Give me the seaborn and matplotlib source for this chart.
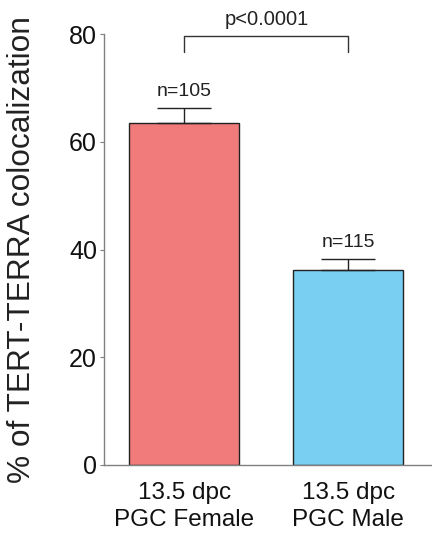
import matplotlib
matplotlib.use("Agg")
import matplotlib.pyplot as plt
import seaborn as sns
import pandas as pd

groups = ["13.5 dpc\nPGC Female", "13.5 dpc\nPGC Male"]
means = [63.5, 36.2]
errors = [2.8, 2.0]
counts = ["n=105", "n=115"]
colors = ["#F07B7A", "#78CFF2"]
p_label = "p<0.0001"
yticks = [0, 20, 40, 60, 80]

sns.set_theme(style="white")
plt.rcParams["font.family"] = ["Liberation Sans", "DejaVu Sans"]

df = pd.DataFrame({"group": groups, "value": means})

fig = plt.figure(figsize=(4.32, 5.39), dpi=100)
ax = fig.add_axes([0.2407, 0.1373, 0.7593, 0.7996])

sns.barplot(data=df, x="group", y="value", hue="group", palette=colors,
            saturation=1, width=0.67, edgecolor="#222222", linewidth=1.0,
            legend=False, errorbar=None, ax=ax)

# upward-only SEM bars
ax.errorbar(range(len(means)), means, yerr=[[0] * len(means), errors],
            fmt="none", ecolor="#222222", elinewidth=1.0, capsize=19.5,
            capthick=1.0, zorder=3)

for i, (m, e, n) in enumerate(zip(means, errors, counts)):
    ax.text(i, m + e + 1.5, n, ha="center", va="bottom", fontsize=14,
            color="#222222")

# significance bracket
ax.plot([0, 0, 1, 1], [76.6, 79.6, 79.6, 76.6], color="#333333", lw=1.0,
        clip_on=False)
ax.text(0.5, 81.0, p_label, ha="center", va="bottom", fontsize=14.5,
        color="#222222")

ax.set_ylim(0, 80)
ax.set_xlim(-0.49, 1.51)
ax.set_yticks(yticks)
ax.set_yticklabels([str(t) for t in yticks], fontsize=18)
ax.tick_params(axis="y", which="both", left=True, length=3, width=0.8,
               color="#808080", pad=2, labelcolor="#111111")
ax.tick_params(axis="x", bottom=False, labelsize=17.5, labelcolor="#111111",
               pad=6)
for lbl in ax.get_xticklabels():
    lbl.set_linespacing(1.3)
ax.set_xlabel("")
ax.set_ylabel("% of TERT-TERRA colocalization", fontsize=22.8,
              color="#222222", labelpad=23)

for side in ["top", "right"]:
    ax.spines[side].set_visible(False)
for side in ["left", "bottom"]:
    ax.spines[side].set_color("#808080")
    ax.spines[side].set_linewidth(1.0)

fig.savefig("out.png", dpi=100)
